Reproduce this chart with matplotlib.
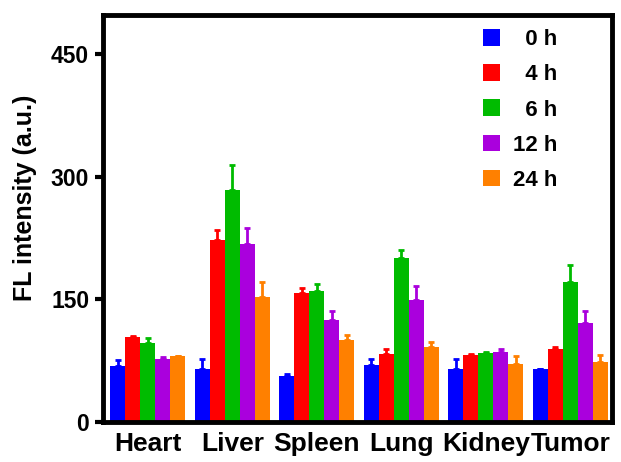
import matplotlib.pyplot as plt
import numpy as np

plt.rcParams['font.family'] = ['Liberation Sans', 'DejaVu Sans']
plt.rcParams['font.weight'] = 'bold'

organs = ["Heart", "Liver", "Spleen", "Lung", "Kidney", "Tumor"]
times = ["  0 h", "  4 h", "  6 h", "12 h", "24 h"]
colors = ["#0000ff", "#ff0000", "#00bb00", "#aa00dd", "#ff8000"]

# mean values per time point (one list per time, ordered like organs)
vals_0h = [68, 65, 56, 70, 65, 64]
vals_4h = [104, 223, 157, 83, 82, 89]
vals_6h = [96, 284, 160, 201, 84, 171]
vals_12h = [77, 218, 124, 149, 85, 121]
vals_24h = [80, 153, 100, 91, 71, 73]

err_0h = [8, 12, 3, 7, 12, 1]
err_4h = [1, 12, 7, 6, 1, 3]
err_6h = [7, 30, 8, 9, 2, 21]
err_12h = [2, 19, 11, 17, 4, 15]
err_24h = [0, 18, 6, 7, 9, 9]

means = [vals_0h, vals_4h, vals_6h, vals_12h, vals_24h]
errs = [err_0h, err_4h, err_6h, err_12h, err_24h]

fig = plt.figure(figsize=(6.21, 4.62), dpi=100)
ax = fig.add_axes([0.166, 0.087, 0.819, 0.881])

x = np.arange(len(organs))
w = 0.178
for i in range(len(times)):
    pos = x + (i - 2) * w
    ax.bar(pos, means[i], w, color=colors[i], label=times[i], zorder=2)
    ax.errorbar(pos, means[i], yerr=[np.zeros(len(organs)), errs[i]],
                fmt='none', ecolor=colors[i], elinewidth=2, capsize=2,
                capthick=2, zorder=1)

ax.set_xlim(-0.53, 5.49)
ax.set_ylim(0, 498)
ax.set_yticks([0, 150, 300, 450])
ax.set_xticks(x)
ax.set_xticklabels(organs)
ax.tick_params(axis='y', direction='out', width=3, length=6, labelsize=16.5, pad=4)
ax.tick_params(axis='x', direction='in', width=3, length=3, labelsize=19, pad=7)
for lab in ax.get_xticklabels() + ax.get_yticklabels():
    lab.set_fontweight('bold')
for s in ax.spines.values():
    s.set_linewidth(3.5)
ax.set_ylabel("FL intensity (a.u.)", fontsize=18, fontweight='bold')
ax.yaxis.set_label_coords(-0.13, 0.55)

leg = ax.legend(loc='upper left', frameon=False, fontsize=16, handlelength=0.77,
                handleheight=0.77, handletextpad=0.6, labelspacing=0.63,
                borderpad=0, borderaxespad=0, bbox_to_anchor=(0.747, 0.964))
for t in leg.get_texts():
    t.set_fontweight('bold')

plt.savefig("out.png", dpi=100)
